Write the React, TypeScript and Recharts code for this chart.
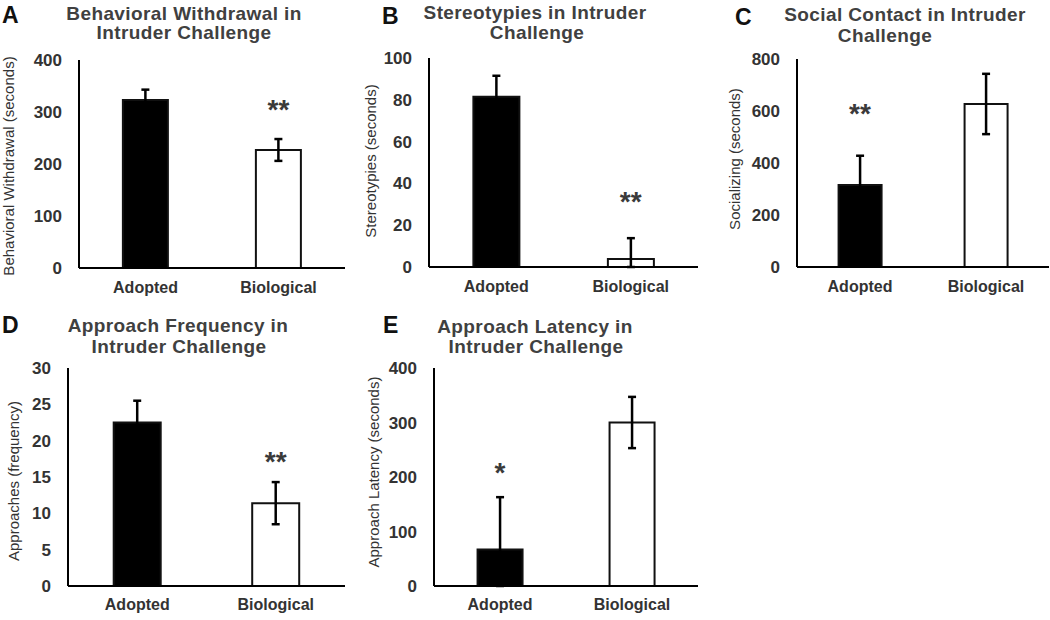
import { BarChart, Bar, XAxis, YAxis, Cell, ErrorBar, ReferenceDot } from 'recharts';

const FONT = '"Liberation Sans", Arial, Helvetica, sans-serif';

const groups = ['Adopted', 'Biological'];

// means and SEM
const withdrawalMean = [323, 227];
const withdrawalSem = [20, 21];
const withdrawalTicks = [0, 100, 200, 300, 400];

const stereotypyMean = [81.5, 3.8];
const stereotypySem = [10, 10];
const stereotypyTicks = [0, 20, 40, 60, 80, 100];

const socialMean = [315, 627];
const socialSem = [113, 116];
const socialTicks = [0, 200, 400, 600, 800];

const approachFreqMean = [22.5, 11.4];
const approachFreqSem = [3, 2.9];
const approachFreqTicks = [0, 5, 10, 15, 20, 25, 30];

const latencyMean = [67, 300];
const latencySem = [96, 47];
const latencyTicks = [0, 100, 200, 300, 400];

const barColors = ['#000000', '#ffffff'];

const buildData = (mean: number[], sem: number[]) =>
  groups.map((g, i) => ({
    group: g,
    mean: mean[i],
    // lower whisker stops at the axis, like the original
    err: [Math.min(sem[i], mean[i]), sem[i]],
  }));

const panels = [
  {
    id: 'A', left: 0, top: 0, width: 350, height: 300, yWidth: 79, mRight: 5, mTop: 60, xHeight: 32, xMargin: 8,
    mean: withdrawalMean, sem: withdrawalSem, ticks: withdrawalTicks,
    star: { group: 'Biological', y: 318, text: '**' },
  },
  {
    id: 'B', left: 350, top: 0, width: 350, height: 300, yWidth: 79, mRight: 2, mTop: 58, xHeight: 33, xMargin: 8,
    mean: stereotypyMean, sem: stereotypySem, ticks: stereotypyTicks,
    star: { group: 'Biological', y: 34.5, text: '**' },
  },
  {
    id: 'C', left: 700, top: 0, width: 350, height: 300, yWidth: 97, mRight: 1, mTop: 59, xHeight: 33, xMargin: 8,
    mean: socialMean, sem: socialSem, ticks: socialTicks,
    star: { group: 'Adopted', y: 615, text: '**' },
  },
  {
    id: 'D', left: 0, top: 300, width: 350, height: 320, yWidth: 68, mRight: 5, mTop: 68, xHeight: 34, xMargin: 7,
    mean: approachFreqMean, sem: approachFreqSem, ticks: approachFreqTicks,
    star: { group: 'Biological', y: 18, text: '**' },
  },
  {
    id: 'E', left: 350, top: 300, width: 350, height: 320, yWidth: 84, mRight: 2, mTop: 68, xHeight: 34, xMargin: 7,
    mean: latencyMean, sem: latencySem, ticks: latencyTicks,
    star: { group: 'Adopted', y: 221, text: '*' },
  },
];

const letters = [
  { t: 'A', x: 2, y: 23 },
  { t: 'B', x: 382, y: 24 },
  { t: 'C', x: 735, y: 25 },
  { t: 'D', x: 2, y: 333 },
  { t: 'E', x: 383, y: 333 },
];

const titles = [
  { t: 'Behavioral Withdrawal in', x: 184, y: 20 },
  { t: 'Intruder Challenge', x: 184, y: 39 },
  { t: 'Stereotypies in Intruder', x: 535, y: 19 },
  { t: 'Challenge', x: 537, y: 39 },
  { t: 'Social Contact in Intruder', x: 905, y: 21 },
  { t: 'Challenge', x: 885, y: 42 },
  { t: 'Approach Frequency in', x: 178, y: 332 },
  { t: 'Intruder Challenge', x: 179, y: 353 },
  { t: 'Approach Latency in', x: 535, y: 333 },
  { t: 'Intruder Challenge', x: 536, y: 353 },
];

const yLabels = [
  { t: 'Behavioral Withdrawal (seconds)', x: 14, y: 166 },
  { t: 'Stereotypies (seconds)', x: 376, y: 161 },
  { t: 'Socializing (seconds)', x: 740, y: 159 },
  { t: 'Approaches (frequency)', x: 19, y: 481 },
  { t: 'Approach Latency (seconds)', x: 379, y: 472 },
];

const xTickStyle = { fill: '#333', fontSize: 16, fontWeight: 700, fontFamily: FONT };
const yTickStyle = { fill: '#333', fontSize: 17, fontWeight: 700, fontFamily: FONT };

const Panel = ({ p }: { p: (typeof panels)[number] }) => {
  const data = buildData(p.mean, p.sem);
  const max = p.ticks[p.ticks.length - 1];
  return (
    <div style={{ position: 'absolute', left: p.left, top: p.top }}>
      <BarChart
        width={p.width}
        height={p.height}
        data={data}
        margin={{ top: p.mTop, right: p.mRight, bottom: 0, left: 0 }}
        barCategoryGap="33%"
      >
        <XAxis
          dataKey="group"
          height={p.xHeight}
          tickLine={false}
          tickMargin={p.xMargin}
          axisLine={{ stroke: '#000', strokeWidth: 2 }}
          tick={xTickStyle}
        />
        <YAxis
          width={p.yWidth}
          domain={[0, max]}
          ticks={p.ticks}
          interval={0}
          tickLine={false}
          tickMargin={11}
          axisLine={{ stroke: '#000', strokeWidth: 2 }}
          tick={yTickStyle}
        />
        <Bar dataKey="mean" stroke="#111" strokeWidth={2} isAnimationActive={false}>
          {data.map((d, i) => (
            <Cell key={d.group} fill={barColors[i]} />
          ))}
          <ErrorBar dataKey="err" width={4} strokeWidth={2.5} stroke="#000" direction="y" isAnimationActive={false} />
        </Bar>
        <ReferenceDot
          x={p.star.group}
          y={p.star.y}
          r={1}
          shape={(s: any) => (
            <text
              x={s.cx}
              y={s.cy + 16}
              textAnchor="middle"
              fontSize={28}
              fontWeight={700}
              fontFamily={FONT}
              fill="#3a3a3a"
            >
              {p.star.text}
            </text>
          )}
        />
      </BarChart>
    </div>
  );
};

export default function App() {
  return (
    <div style={{ position: 'absolute', left: 0, top: 0, width: 1050, height: 620, background: '#fff', fontFamily: FONT }}>
      {panels.map((p) => (
        <Panel key={p.id} p={p} />
      ))}
      <svg width={1050} height={620} style={{ position: 'absolute', left: 0, top: 0, pointerEvents: 'none' }}>
        {letters.map((l) => (
          <text key={l.t} x={l.x} y={l.y} fontSize={23} fontWeight={900} fontFamily={FONT} fill="#111">
            {l.t}
          </text>
        ))}
        {titles.map((t, i) => (
          <text
            key={i}
            x={t.x}
            y={t.y}
            textAnchor="middle"
            fontSize={19}
            fontWeight={700}
            letterSpacing={0.4}
            fontFamily={FONT}
            fill="#404040"
          >
            {t.t}
          </text>
        ))}
        {yLabels.map((l, i) => (
          <text
            key={i}
            x={l.x}
            y={l.y}
            transform={`rotate(-90, ${l.x}, ${l.y})`}
            textAnchor="middle"
            fontSize={15}
            fontFamily={FONT}
            fill="#333"
          >
            {l.t}
          </text>
        ))}
      </svg>
    </div>
  );
}
